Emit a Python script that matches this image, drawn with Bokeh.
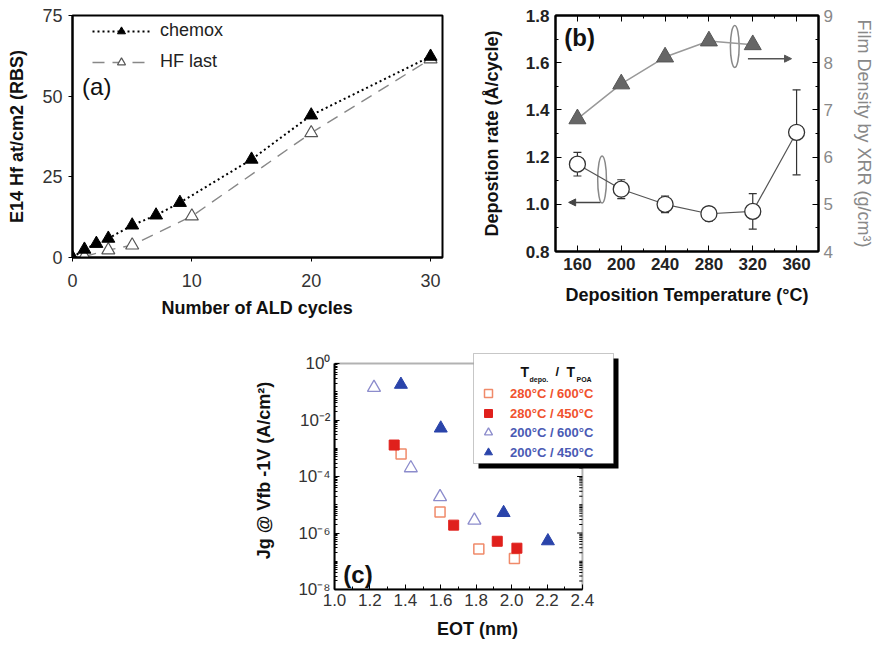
import numpy as np
from bokeh.plotting import figure
from bokeh.models import (Legend, LegendItem, Label, Range1d, LinearAxis, Whisker,
                          ColumnDataSource, FixedTicker, SingleIntervalTicker, CustomJSTickFormatter,
                          PrintfTickFormatter, Arrow, NormalHead, TeeHead, BoxAnnotation, Spacer)
from bokeh.layouts import column, row
from bokeh.embed import file_html
from bokeh.resources import INLINE

FONT = "Liberation Sans"

# ---------------- data: panel (a) ----------------
cycles_chemox = [0, 1, 2, 3, 5, 7, 9, 15, 20, 30]
hf_chemox = [0, 2.5, 4.3, 5.9, 10.0, 13.1, 17.0, 30.4, 44.1, 62.3]
cycles_hflast = [1, 3, 5, 10, 20, 30]
hf_hflast = [0.3, 2.3, 3.8, 12.8, 38.6, 61.5]

# ---------------- data: panel (b) ----------------
temp = [160, 200, 240, 280, 320, 360]
dep_rate = [1.17, 1.064, 1.0, 0.96, 0.97, 1.305]
dep_rate_err = [0.05, 0.04, 0.035, 0.03, 0.075, 0.18]
temp_density = [160, 200, 240, 280, 320]
density = [6.81, 7.55, 8.12, 8.46, 8.38]

# ---------------- data: panel (c) ----------------
eot_280_600 = [1.376, 1.596, 1.815, 2.016]
jg_280_600 = [6.3e-4, 5.5e-6, 2.7e-7, 1.25e-7]
eot_280_450 = [1.337, 1.673, 1.919, 2.03]
jg_280_450 = [1.3e-3, 1.9e-6, 5.1e-7, 2.9e-7]
eot_200_600 = [1.223, 1.431, 1.596, 1.79]
jg_200_600 = [0.14, 2.0e-4, 1.9e-5, 2.8e-6]
eot_200_450 = [1.375, 1.6, 1.955, 2.205]
jg_200_450 = [0.18, 5.1e-3, 5.2e-6, 5.2e-7]
labels_c = ["280°C / 600°C", "280°C / 450°C", "200°C / 600°C", "200°C / 450°C"]
eot_ticks = [1.0, 1.2, 1.4, 1.6, 1.8, 2.0, 2.2, 2.4]
eot_minor = [1.1, 1.3, 1.5, 1.7, 1.9, 2.1, 2.3]
jg_ticks = [1e-8, 1e-6, 1e-4, 1e-2, 1.0]


def style_axis(ax, size="18px", bold=False, color="#222222", lab_size="18px", lab_bold=True):
    ax.major_label_text_font = FONT
    ax.major_label_text_font_size = size
    ax.major_label_text_font_style = "bold" if bold else "normal"
    ax.major_label_text_color = color
    ax.axis_label_text_font = FONT
    ax.axis_label_text_font_size = lab_size
    ax.axis_label_text_font_style = "bold" if lab_bold else "normal"
    ax.axis_label_text_color = "#111111"
    ax.axis_line_color = "black"
    ax.axis_line_width = 2
    ax.major_tick_line_color = "black"
    ax.minor_tick_line_color = "black"


# ================= panel (a) =================
pa = figure(width=455, height=326, x_range=Range1d(0, 31), y_range=Range1d(0, 75),
            output_backend="svg", toolbar_location=None,
            min_border_left=72, min_border_right=13, min_border_top=15, min_border_bottom=69)
pa.grid.visible = False
pa.outline_line_color = "black"
pa.outline_line_width = 2
pa.xaxis.ticker = FixedTicker(ticks=[0, 10, 20, 30])
pa.yaxis.ticker = FixedTicker(ticks=[0, 25, 50, 75])
for ax in (pa.xaxis[0], pa.yaxis[0]):
    style_axis(ax, size="18px", color="#333333")
    ax.major_tick_out = 4
    ax.major_tick_in = 0
    ax.minor_tick_out = 0
    ax.minor_tick_in = 0
pa.xaxis.axis_label = "Number of ALD cycles"
pa.yaxis.axis_label = "E14 Hf at/cm2 (RBS)"
pa.xaxis.major_label_standoff = 12
pa.yaxis.major_label_standoff = 6
pa.yaxis.axis_label_standoff = 12
pa.xaxis.axis_label_standoff = 8

l_chem = pa.line(cycles_chemox, hf_chemox, line_color="black", line_width=2, line_dash="2 3")
l_hf = pa.line(cycles_hflast, hf_hflast, line_color="#888888", line_width=1.4, line_dash="12 8")
s_hf = pa.scatter(cycles_hflast, hf_hflast, marker="triangle", size=13, fill_color="white",
                  line_color="#555555", line_width=1.2)
s_chem = pa.scatter(cycles_chemox, hf_chemox, marker="triangle", size=13, fill_color="black",
                    line_color="black")
leg_a = Legend(items=[LegendItem(label="chemox", renderers=[l_chem, s_chem]),
                      LegendItem(label="HF last", renderers=[l_hf, s_hf])],
               location=(20, 185), padding=0, margin=0, spacing=10, glyph_width=58,
               glyph_height=20, label_height=20, label_standoff=10,
               background_fill_alpha=0, border_line_color=None,
               label_text_font=FONT, label_text_font_size="18px", label_text_color="#222222")
pa.add_layout(leg_a)
pa.add_layout(Label(x=0.8, y=53, text="(a)", text_font=FONT, text_font_size="24px",
                    text_baseline="middle", text_color="#111111"))

# ================= panel (b) =================
pb = figure(width=421, height=320, x_range=Range1d(140, 380), y_range=Range1d(0.8, 1.8),
            output_backend="svg", toolbar_location=None,
            min_border_left=100, min_border_right=55, min_border_top=15, min_border_bottom=69)
pb.grid.visible = False
pb.outline_line_color = "black"
pb.outline_line_width = 2
pb.extra_y_ranges = {"dens": Range1d(4, 9)}
pb.xaxis.ticker = SingleIntervalTicker(interval=40, num_minor_ticks=2)
pb.yaxis.ticker = SingleIntervalTicker(interval=0.2, num_minor_ticks=2)
pb.yaxis.formatter = PrintfTickFormatter(format="%.1f")
for ax in (pb.xaxis[0], pb.yaxis[0]):
    style_axis(ax, size="17px", bold=True, color="#222222")
    ax.major_tick_out = 0
    ax.major_tick_in = 6
    ax.minor_tick_out = 0
    ax.minor_tick_in = 3
pb.xaxis.axis_label = "Deposition Temperature (°C)"
pb.yaxis.axis_label = "Depostion rate (Å/cycle)"
pb.xaxis.major_label_standoff = 6
pb.yaxis.major_label_standoff = 6
pb.yaxis.axis_label_standoff = 21
pb.xaxis.axis_label_standoff = 12

rax = LinearAxis(y_range_name="dens", ticker=SingleIntervalTicker(interval=1, num_minor_ticks=2),
                 axis_label="Film Density by XRR (g/cm³)")
style_axis(rax, size="17px", color="#888888", lab_bold=False)
rax.axis_label_text_color = "#888888"
rax.major_tick_out = 0
rax.major_tick_in = 6
rax.minor_tick_out = 0
rax.minor_tick_in = 3
rax.major_label_standoff = 5
rax.axis_label_standoff = 18
pb.add_layout(rax, "right")

tax = LinearAxis(ticker=SingleIntervalTicker(interval=40, num_minor_ticks=2))
style_axis(tax)
tax.major_label_text_color = None
tax.major_label_text_font_size = "1px"
tax.major_label_standoff = 0
tax.major_tick_out = 0
tax.major_tick_in = 6
tax.minor_tick_out = 0
tax.minor_tick_in = 3
pb.add_layout(tax, "above")

# annotation ellipses / arrows (decoration)
ell_x = [182.5, 303.6]
ell_y = [1.105, 1.669]
ell_h = [0.2, 0.178]
pb.ellipse(x=ell_x, y=ell_y, width=8, height=ell_h, fill_color=None, line_color="#888888",
           line_width=1.5)
pb.add_layout(Arrow(end=NormalHead(size=7, fill_color="#444444", line_color="#444444"),
                    x_start=181, y_start=1.008, x_end=152, y_end=1.008,
                    line_color="#444444", line_width=1.5))
pb.add_layout(Arrow(end=NormalHead(size=7, fill_color="#555555", line_color="#555555"),
                    x_start=315.6, y_start=1.617, x_end=355.4, y_end=1.617,
                    line_color="#555555", line_width=1.5))

src_b = ColumnDataSource(dict(x=temp, y=dep_rate,
                              lo=[v - e for v, e in zip(dep_rate, dep_rate_err)],
                              hi=[v + e for v, e in zip(dep_rate, dep_rate_err)]))
pb.add_layout(Whisker(base="x", lower="lo", upper="hi", source=src_b, line_color="#333333",
                      line_width=1.2, level="underlay",
                      upper_head=TeeHead(size=8, line_color="#333333", line_width=1.2),
                      lower_head=TeeHead(size=8, line_color="#333333", line_width=1.2)))
pb.line("x", "y", source=src_b, line_color="#555555", line_width=1.2)
pb.scatter("x", "y", source=src_b, marker="circle", size=16, fill_color="white",
           line_color="#333333", line_width=1.3)

pb.line(temp_density, density, y_range_name="dens", line_color="#999999", line_width=1.5)
pb.scatter(temp_density, density, y_range_name="dens", marker="triangle", size=17,
           fill_color="#666666", line_color="#555555")
pb.add_layout(Label(x=148, y=1.705, text="(b)", text_font=FONT, text_font_size="24px",
                    text_font_style="bold", text_baseline="middle", text_color="#111111"))

# ================= panel (c) =================
# The frame is made a little larger than the drawn axes box so that the legend,
# which overhangs the box at its top-right corner, is not clipped.
X0, X1, XPAD = 1.0, 2.4, 2.615
Y0, Y1, YPAD = 1e-8, 1.0, 2.66
pc = figure(width=396, height=319, x_range=Range1d(X0, XPAD), y_range=Range1d(Y0, YPAD),
            y_axis_type="log", output_backend="svg", toolbar_location=None,
            min_border_left=90, min_border_right=20, min_border_top=25, min_border_bottom=56)
pc.grid.visible = False
pc.outline_line_color = None
pc.xaxis.ticker = FixedTicker(ticks=eot_ticks, minor_ticks=eot_minor)
pc.xaxis.formatter = PrintfTickFormatter(format="%.1f")
pc.xaxis.bounds = (X0, X1)
pc.yaxis.bounds = (Y0, Y1)
minor_c = [m * 10.0 ** k for k in range(-8, 0) for m in range(2, 10)] + [10.0 ** k for k in (-7, -5, -3, -1)]
pc.yaxis.ticker = FixedTicker(ticks=jg_ticks, minor_ticks=minor_c)
sup_code = """
const sup = {'-':'\u207b','0':'\u2070','1':'\u00b9','2':'\u00b2','3':'\u00b3','4':'\u2074',
             '5':'\u2075','6':'\u2076','7':'\u2077','8':'\u2078','9':'\u2079'};
const e = Math.round(Math.log10(tick));
return '10' + String(e).split('').map(c => sup[c]).join('');
"""
pc.yaxis.formatter = CustomJSTickFormatter(code=sup_code)
for ax in (pc.xaxis[0], pc.yaxis[0]):
    style_axis(ax, size="17px", color="#333333")
    ax.major_tick_out = 0
    ax.major_tick_in = 5
    ax.minor_tick_out = 0
    ax.minor_tick_in = 3
pc.xaxis.axis_label = "EOT (nm)"
pc.yaxis.axis_label = "Jg @ Vfb -1V (A/cm²)"
pc.xaxis.major_label_standoff = 4
pc.yaxis.major_label_standoff = 4
pc.yaxis.axis_label_standoff = 21
pc.xaxis.axis_label_standoff = 10

# visible axes box
pc.add_layout(BoxAnnotation(left=X0, right=X1, bottom=Y0, top=Y1, fill_alpha=0,
                            line_color="black", line_width=2))
# inward ticks on the right edge of the box
pc.segment(x0=[X1] * len(minor_c), y0=minor_c, x1=[X1 - 0.018] * len(minor_c), y1=minor_c,
           line_color="black", line_width=1)
pc.segment(x0=[X1] * len(jg_ticks), y0=jg_ticks, x1=[X1 - 0.03] * len(jg_ticks), y1=jg_ticks,
           line_color="black", line_width=1)

c_orange, c_red, c_lblue, c_blue = "#f08a6a", "#e0201c", "#8c8ccc", "#2a44aa"
r1 = pc.scatter(eot_280_600, jg_280_600, marker="square", size=10, fill_color="white",
                line_color=c_orange, line_width=1.5)
r2 = pc.scatter(eot_280_450, jg_280_450, marker="square", size=10, fill_color=c_red,
                line_color=c_red)
r3 = pc.scatter(eot_200_600, jg_200_600, marker="triangle", size=13, fill_color="white",
                line_color=c_lblue, line_width=1.3)
r4 = pc.scatter(eot_200_450, jg_200_450, marker="triangle", size=13, fill_color=c_blue,
                line_color=c_blue)

# legend box with shadow (positions in px relative to frame bottom-left)
pc.add_layout(BoxAnnotation(left=144, right=284, top=231, bottom=121, left_units="screen",
                            right_units="screen", top_units="screen", bottom_units="screen",
                            fill_color="black", fill_alpha=1, line_color=None))
pc.add_layout(BoxAnnotation(left=139, right=279, top=236, bottom=126, left_units="screen",
                            right_units="screen", top_units="screen", bottom_units="screen",
                            fill_color="white", fill_alpha=1, line_color="#444444", line_width=1))
common_leg = dict(padding=0, margin=0, spacing=0, glyph_width=20, glyph_height=20,
                  label_height=20, label_standoff=12, background_fill_alpha=0,
                  border_line_color=None, label_text_font=FONT, label_text_font_size="13px",
                  label_text_font_style="bold")
leg_c1 = Legend(items=[LegendItem(label=labels_c[0], renderers=[r1]),
                       LegendItem(label=labels_c[1], renderers=[r2])],
                location=(144, 166), label_text_color="#f0522e", **common_leg)
leg_c2 = Legend(items=[LegendItem(label=labels_c[2], renderers=[r3]),
                       LegendItem(label=labels_c[3], renderers=[r4])],
                location=(144, 127), label_text_color="#4a5ab4", **common_leg)
pc.add_layout(leg_c1)
pc.add_layout(leg_c2)
hdr = [("T", 186, 218, "14px"), ("depo.", 195, 210, "7px"), ("/", 221, 218, "13px"),
       ("T", 232, 218, "14px"), ("POA", 242, 210, "7px")]
for t, hx, hy, fs in hdr:
    pc.add_layout(Label(x=hx, y=hy, x_units="screen", y_units="screen", text=t,
                        text_font=FONT, text_font_size=fs, text_font_style="bold",
                        text_baseline="middle", text_color="#111111"))
pc.add_layout(Label(x=1.05, y=3.4e-8, text="(c)", text_font=FONT, text_font_size="24px",
                    text_font_style="bold", text_baseline="middle", text_color="#111111"))

layout = column(row(pa, pb), row(Spacer(width=244, height=319), pc))
open("out.html", "w").write(file_html(layout, INLINE))
